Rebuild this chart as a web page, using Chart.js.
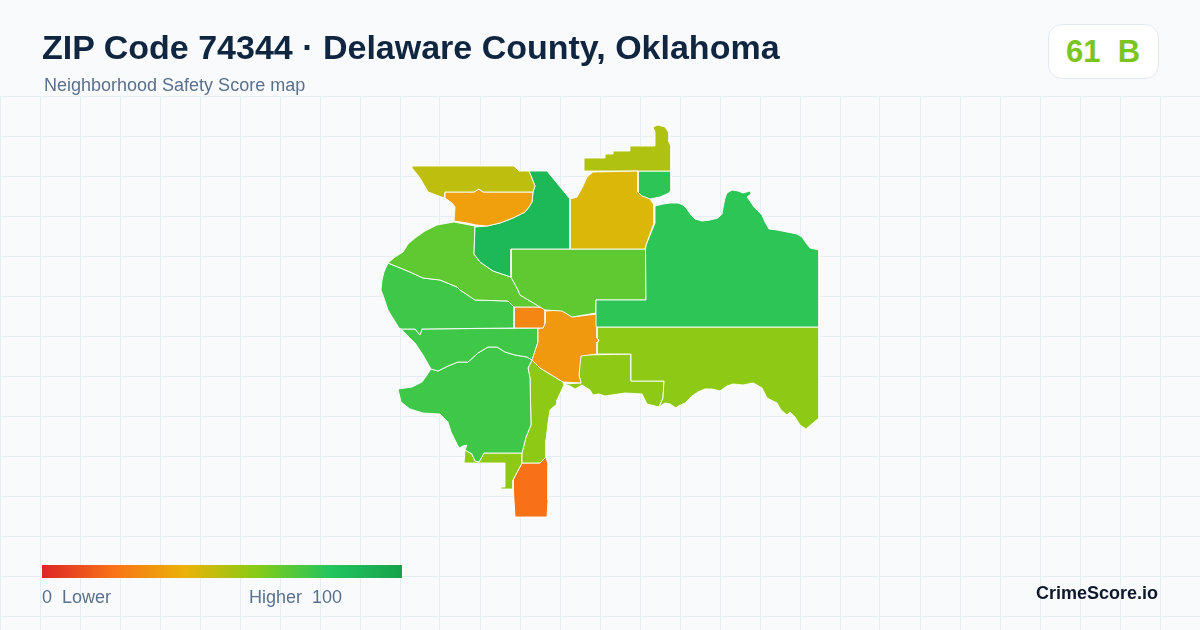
<!DOCTYPE html>
<html>
<head>
<meta charset="utf-8">
<title>ZIP Code 74344</title>
<script src="https://cdn.jsdelivr.net/npm/chart.js@4/dist/chart.umd.min.js"></script>
<style>
  html, body { margin: 0; padding: 0; background: #f8fafc; }
  #wrap { position: relative; width: 1200px; height: 630px; overflow: hidden; font-family: "Liberation Sans", Arial, sans-serif; }
  canvas { position: absolute; left: 0; top: 0; }
  .txt { position: absolute; white-space: pre; line-height: 1; }
  #title { left: 42px; top: 30px; font-size: 34px; font-weight: 700; color: #0f2540; }
  #sub { left: 44px; top: 76px; font-size: 18px; color: #5b708c; }
  #badge { position: absolute; left: 1048px; top: 24px; width: 109px; height: 53px; background: #fff; border: 1px solid #e2e8f0; border-radius: 14px; }
  #score { left: 1066px; top: 36px; font-size: 31px; font-weight: 700; color: #7cc520; }
  #ramp { position: absolute; left: 42px; top: 565px; width: 360px; height: 13px;
    background: linear-gradient(90deg, #dc2626 0%, #f97316 20%, #eab308 40%, #84cc16 60%, #22c55e 80%, #16a34a 100%); }
  .leg { top: 588px; font-size: 18px; color: #5b708c; }
  #brand { right: 42px; top: 584px; font-size: 18px; font-weight: 700; color: #0f172a; }
</style>
</head>
<body>
<div id="wrap">
  <canvas id="map" width="1200" height="630"></canvas>
  <div class="txt" id="title">ZIP Code 74344 · Delaware County, Oklahoma</div>
  <div class="txt" id="sub">Neighborhood Safety Score map</div>
  <div id="badge"></div>
  <div class="txt" id="score">61  B</div>
  <div id="ramp"></div>
  <div class="txt leg" style="left:42px">0  Lower</div>
  <div class="txt leg" style="left:249px">Higher  100</div>
  <div class="txt" id="brand">CrimeScore.io</div>
</div>
<script>
// grid lines of the map backdrop
const gridX = [0,40,80,120,160,200,240,280,320,360,400,440,480,520,560,600,640,680,720,760,800,840,880,920,960,1000,1040,1080,1120,1160];
const gridY = [96,136,176,216,256,296,336,376,416,456,496,536,576,616];

// neighborhood outlines
const northOlive = [[412,166],[514,166],[519,171],[529,171],[535,186],[533,192],[483,192],[479,189],[474,192],[445,192],[444,198],[428,192],[420,178],[412,168]];
const northOrange = [[445,192],[474,192],[479,189],[483,192],[533,192],[532,202],[529,207],[525,212],[513,218],[500,223],[487,226],[476,225],[467,223],[454,221],[455,207],[452,203],[445,198]];
const darkGreen = [[529,171],[547,171],[570,199],[570,249],[511,249],[511,277],[493,271],[480,262],[474,254],[475,227],[487,226],[500,223],[513,218],[525,212],[529,207],[532,202],[533,192],[535,186]];
const gold = [[570,199],[577,197],[583,186],[587,177],[593,172],[638,171],[638,192],[642,196],[650,199],[654,205],[654,223],[646,245],[645,249],[570,249]];
const topLime = [[584,171],[584,158],[605,158],[605,154],[613,154],[613,151],[630,151],[630,146],[654,146],[655,132],[653,127],[658,125],[665,127],[669,133],[669,142],[671,147],[671,171]];
const topGreen = [[638,171],[671,171],[671,190],[669,193],[660,197],[650,199],[642,196],[638,192]];
const eastGreen = [[655,206],[663,204],[670,203],[678,203],[683,205],[687,209],[691,215],[695,219],[702,221],[710,220],[718,218],[722,214],[723,208],[725,198],[727,193],[732,190],[738,191],[743,193],[750,191],[751,194],[747,197],[750,201],[754,207],[762,215],[765,222],[769,229],[777,230],[787,232],[797,234],[802,237],[806,243],[810,248],[819,250],[819,327],[596,327],[596,300],[646,300],[645.5,249],[646,245],[655,223]];
const centerLime = [[511,249],[645.5,249],[646,300],[596,300],[596,313],[572,317],[562,311],[545,310],[540,307],[535,304],[520,295],[518,290],[511,277]];
const westLime = [[388,263],[395,257],[403,252],[408,244],[415,238],[425,231],[437,225],[454,222],[475,226],[474,254],[480,262],[493,271],[511,277],[518,290],[520,295],[535,304],[540,307],[514,307],[508,301],[475,300],[460,290],[457,287],[440,280],[423,278],[410,272]];
const westGreen = [[388,263],[410,272],[423,278],[440,280],[457,287],[460,290],[475,300],[508,301],[514,307],[514,328],[422,329],[420,335],[415,329],[401,329],[399,328],[388,310],[384,298],[381,290],[382,280],[384,272]];
const smallOrange = [[514,307],[543,307],[545,312],[545,323],[543,328],[514,328]];
const centerOrange = [[545,311],[562,310],[572,317],[597,314],[597,338],[599,341],[597,342],[597,354],[581,356],[579,375],[581,383],[563,382],[540,368],[532,360],[538,342],[538,328],[543,328],[545,323]];
const midGreen = [[401,329],[415,329],[420,335],[422,329],[538,328],[538,342],[532,360],[527,357],[515,355],[505,352],[497,347],[488,347],[478,353],[468,362],[458,362],[448,366],[438,371],[431,369],[423,355],[415,343]];
const southGreen = [[431,369],[438,371],[448,366],[458,362],[468,362],[478,353],[488,347],[497,347],[505,352],[515,355],[527,357],[532,360],[528,368],[530,378],[531,425],[526,437],[522,453],[484,453],[479,462],[475,461],[472,454],[465,450],[467,445],[463,446],[459,448],[455,440],[451,432],[448,422],[440,414],[423,413],[410,409],[401,402],[398,389],[412,387],[422,382],[427,375]];
const stripLime = [[532,360],[540,368],[563,382],[564,385],[557,400],[557,404],[550,410],[548,423],[546,440],[546,457],[540,463],[522,463],[522,453],[526,437],[531,425],[530,378],[528,368]];
const southLime = [[465,450],[472,454],[475,461],[479,462],[484,453],[522,453],[522,463],[513,480],[513,489],[501,489],[501,487],[505,487],[505,463],[480,463],[464,463]];
const southOrange = [[522,463],[540,463],[546,457],[548,465],[548,500],[547,517],[515,517],[514,500],[513,480]];
const eastLime = [[596,327],[819,327],[819,418],[813,423],[806,429],[800,425],[795,417],[790,412],[787,415],[781,410],[777,403],[767,398],[762,388],[757,385],[753,383],[743,385],[733,384],[727,386],[720,391],[712,389],[705,389],[698,392],[692,396],[685,403],[678,406],[676,408],[670,404],[665,403],[659,407],[663,398],[664,381],[631,381],[631,354],[596,354],[596,342],[599,340],[596,338]];
const lakeLime = [[580,355],[631,354],[631,381],[664,381],[663,398],[659,407],[647,404],[642,394],[625,393],[605,396],[599,394],[593,395],[590,390],[582,385],[575,389],[570,386],[564,384],[581,383],[579,375]];

const regions = [northOlive, northOrange, darkGreen, gold, topLime, topGreen, eastGreen, centerLime, westLime, westGreen, smallOrange, centerOrange, midGreen, southGreen, stripLime, southLime, southOrange, eastLime, lakeLime];
// safety score of each neighborhood, same order
const regionScores = [48.6, 34, 87, 43, 51.6, 78, 78, 67.5, 67.5, 74, 26, 32, 74, 74, 58, 58, 19.5, 58, 58];

// same colour ramp as the legend bar
const rampStops = [[220,38,38],[249,115,22],[234,179,8],[132,204,22],[34,197,94],[22,163,74]];
function scoreColor(s) {
  const p = Math.min(s / 20, 4.999);
  const i = Math.floor(p), t = p - i;
  const c = rampStops[i].map((v, k) => Math.round(v + (rampStops[i + 1][k] - v) * t));
  return `rgb(${c[0]},${c[1]},${c[2]})`;
}

const datasets = regions.map((pts, i) => ({
  data: pts.concat([pts[0]]),
  showLine: true,
  fill: 'shape',
  tension: 0,
  backgroundColor: scoreColor(regionScores[i]),
  borderColor: '#ffffff',
  borderWidth: 0.9,
  borderJoinStyle: 'round',
  pointRadius: 0
}));

const gridOpts = { color: '#e6eef1', lineWidth: 1, drawTicks: false };

new Chart(document.getElementById('map').getContext('2d'), {
  type: 'scatter',
  data: { datasets },
  options: {
    responsive: false,
    animation: false,
    devicePixelRatio: 1,
    layout: { padding: { top: 96 } },
    plugins: { legend: { display: false }, tooltip: { enabled: false } },
    scales: {
      x: {
        min: 0, max: 1200,
        grid: gridOpts,
        border: { display: false },
        ticks: { display: false },
        afterBuildTicks: s => { s.ticks = gridX.map(value => ({ value })); }
      },
      y: {
        min: 96, max: 630, reverse: true,
        grid: gridOpts,
        border: { display: false },
        ticks: { display: false },
        afterBuildTicks: s => { s.ticks = gridY.map(value => ({ value })); }
      }
    }
  }
});
</script>
</body>
</html>
